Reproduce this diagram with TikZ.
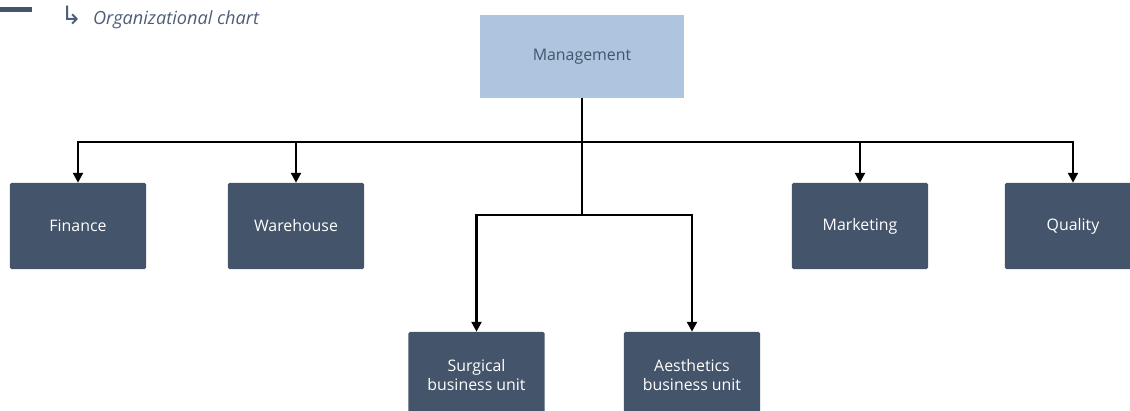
\documentclass[tikz,border=0pt]{standalone}
\usepackage{fontspec}
\setmainfont{Open Sans}
\newfontfamily\symfont{DejaVu Sans}
\usetikzlibrary{arrows.meta}
\definecolor{slate}{HTML}{44546A}
\definecolor{pale}{HTML}{ADC5DE}
\definecolor{capt}{HTML}{4E5E78}

\begin{document}
\begin{tikzpicture}[x=0.025cm,y=-0.025cm,
    unit/.style={fill=slate,text=white,minimum width=3.4cm,minimum height=2.15cm,
      align=center,font=\fontsize{11.3}{13.2}\selectfont,rounded corners=1pt,inner sep=0pt},
    link/.style={line width=1.7pt,-{Triangle[width=7pt,length=7pt]}}
  ]
  \clip (0,0) rectangle (1130,410);
  \fill[slate] (0,7) rectangle (32,12);
  \node[anchor=west,text=capt,font=\fontsize{12.9}{15}\selectfont] (cap) at (56,17)
    {{\symfont\fontsize{18}{18}\selectfont ↳}\hspace{0.6em}\textit{Organizational chart}};
  \node[fill=pale,text=slate,minimum width=5.1cm,minimum height=2.075cm,
    font=\fontsize{11.3}{13.2}\selectfont] (mgmt) at (582,56.5) {Management};
  \foreach \n/\x/\t in {fin/78/Finance,wh/296/Warehouse,mkt/860/Marketing,qa/1073/Quality}
    \node[unit] (\n) at (\x,226) {\t};
  \node[unit] (sbu) at (476.5,375) {Surgical\\business unit};
  \node[unit] (abu) at (692,375) {Aesthetics\\business unit};
  \coordinate (top) at (582,142);
  \coordinate (mid) at (582,215);
  \foreach \n in {fin,wh,mkt,qa}
    \draw[link] (mgmt.south) -- (top) -| (\n.north);
  \foreach \n in {sbu,abu}
    \draw[link] (mgmt.south) -- (mid) -| (\n.north);
\end{tikzpicture}
\end{document}
